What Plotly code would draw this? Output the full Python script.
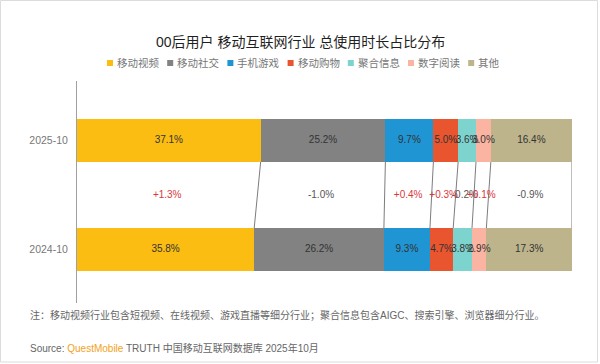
import plotly.graph_objects as go

# ---------------- data ----------------
categories = ["移动视频", "移动社交", "手机游戏", "移动购物", "聚合信息", "数字阅读", "其他"]
periods = ["2025-10", "2024-10"]
values_2025 = [37.1, 25.2, 9.7, 5.0, 3.6, 3.0, 16.4]
values_2024 = [35.8, 26.2, 9.3, 4.7, 3.8, 2.9, 17.3]
colors = ["#FBBD12", "#828282", "#1F95D3", "#E8552F", "#7DD4CF", "#FAB4A1", "#BDB48B"]

title_text = "00后用户 移动互联网行业 总使用时长占比分布"
note_text = "注：移动视频行业包含短视频、在线视频、游戏直播等细分行业；聚合信息包含AIGC、搜索引擎、浏览器细分行业。"
source_text = ("Source: <span style='color:#F3A21B'>QuestMobile</span> "
               "TRUTH 中国移动互联网数据库 2025年10月")

W, H = 600, 364
FONT = "Liberation Sans, Noto Sans CJK SC, sans-serif"
Y_TOP, Y_MID, Y_BOT = 2, 1, 0
BAR_W = 0.79


def px_x(p):
    return p / W


def px_y(p):
    return 1 - p / H


fig = go.Figure()

# stacked bars
for cat, v25, v24, col in zip(categories, values_2025, values_2024, colors):
    fig.add_trace(go.Bar(
        x=[v25, v24], y=[Y_TOP, Y_BOT], orientation="h", name=cat,
        marker=dict(color=col, line=dict(width=0)), width=BAR_W,
        showlegend=False, hoverinfo="x+name"))

# cumulative boundaries
cum25, cum24 = [], []
s25 = s24 = 0.0
for a, b in zip(values_2025, values_2024):
    cum25.append((s25, s25 + a))
    cum24.append((s24, s24 + b))
    s25 += a
    s24 += b

# connector lines
lx, ly = [], []
for (a0, a1), (b0, b1) in zip(cum25, cum24):
    lx += [a1, b1, None]
    ly += [Y_TOP - BAR_W / 2, Y_BOT + BAR_W / 2, None]
fig.add_trace(go.Scatter(x=lx, y=ly, mode="lines",
                         line=dict(color="#5a5a5a", width=0.8),
                         showlegend=False, hoverinfo="skip"))

# in-bar labels
fig.add_trace(go.Scatter(
    x=[(a0 + a1) / 2 for a0, a1 in cum25] + [(b0 + b1) / 2 for b0, b1 in cum24],
    y=[Y_TOP] * len(values_2025) + [Y_BOT] * len(values_2024),
    text=[f"{v:.1f}%" for v in values_2025] + [f"{v:.1f}%" for v in values_2024],
    mode="text", textfont=dict(family=FONT, size=10, color="#333333"),
    showlegend=False, hoverinfo="skip"))

# change labels in the middle row
diffs = [round(a - b, 1) for a, b in zip(values_2025, values_2024)]
fig.add_trace(go.Scatter(
    x=[((a0 + a1) / 2 + (b0 + b1) / 2) / 2 for (a0, a1), (b0, b1) in zip(cum25, cum24)],
    y=[Y_MID] * len(diffs),
    text=[(f"+{d:.1f}%" if d > 0 else f"{d:.1f}%") for d in diffs],
    mode="text",
    textfont=dict(family=FONT, size=10,
                  color=["#D8393B" if d > 0 else "#555555" for d in diffs]),
    showlegend=False, hoverinfo="skip"))

# custom legend (squares + text)
shapes = []
annotations = []
leg_x0, leg_step, leg_y = 107, 60.2, 63
for i, (cat, col) in enumerate(zip(categories, colors)):
    x0 = leg_x0 + i * leg_step
    shapes.append(dict(type="rect", xref="paper", yref="paper",
                       x0=px_x(x0), x1=px_x(x0 + 6),
                       y0=px_y(leg_y + 3), y1=px_y(leg_y - 3),
                       fillcolor=col, line=dict(width=0)))
    annotations.append(dict(xref="paper", yref="paper", x=px_x(x0 + 8), y=px_y(leg_y),
                            xanchor="left", yanchor="middle", showarrow=False,
                            text=cat, font=dict(family=FONT, size=10.5, color="#777777")))

# outer frame
shapes.append(dict(type="rect", xref="paper", yref="paper",
                   x0=px_x(0.5), x1=px_x(597.5), y0=px_y(362), y1=px_y(0.5),
                   line=dict(color="#dcdcdc", width=1), fillcolor="rgba(0,0,0,0)",
                   layer="below"))

# title, note, source
annotations.append(dict(xref="paper", yref="paper", x=px_x(300), y=px_y(42),
                        xanchor="center", yanchor="middle", showarrow=False,
                        text=title_text,
                        font=dict(family=FONT, size=14, color="#1f1f1f")))
annotations.append(dict(xref="paper", yref="paper", x=px_x(28), y=px_y(315),
                        xanchor="left", yanchor="middle", showarrow=False,
                        text=note_text,
                        font=dict(family=FONT, size=10, color="#666666")))
annotations.append(dict(xref="paper", yref="paper", x=px_x(28), y=px_y(348),
                        xanchor="left", yanchor="middle", showarrow=False,
                        text=source_text,
                        font=dict(family=FONT, size=10, color="#666666")))

fig.update_layout(
    width=W, height=H, margin=dict(l=0, r=0, t=0, b=0),
    paper_bgcolor="white", plot_bgcolor="white",
    barmode="stack", bargap=0, showlegend=False,
    shapes=shapes, annotations=annotations,
    xaxis=dict(domain=[px_x(77), px_x(572)], range=[0, 100], visible=False,
               fixedrange=True),
    yaxis=dict(domain=[px_y(303), px_y(81)], range=[-0.98, 3.09],
               tickvals=[Y_TOP, Y_BOT], ticktext=periods, ticks="",
               showline=True, linecolor="#a0a0a0", linewidth=1,
               showgrid=False, zeroline=False, ticklabelstandoff=6,
               tickfont=dict(family=FONT, size=10.5, color="#777777"),
               fixedrange=True),
)

fig.write_html("out.html", config={"displayModeBar": False},
               post_script="document.body.style.margin='0';document.body.style.overflow='hidden';")
